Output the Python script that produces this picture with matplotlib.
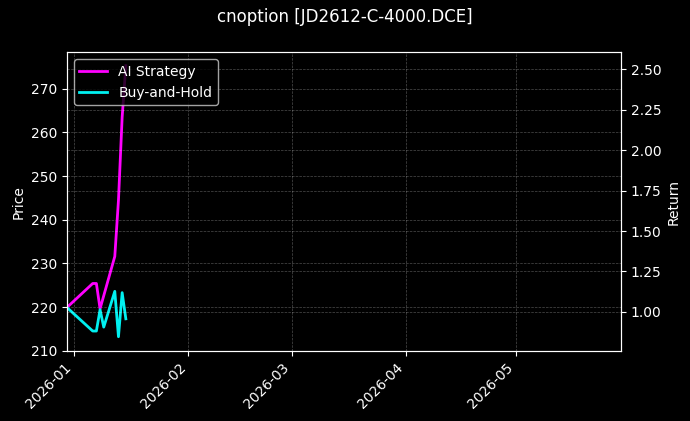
import matplotlib
matplotlib.use('Agg')
import matplotlib.pyplot as plt
import matplotlib.dates as mdates
import pandas as pd

# 数据
dates = pd.to_datetime(['2025-12-30', '2026-01-06', '2026-01-07', '2026-01-08',
                        '2026-01-09', '2026-01-12', '2026-01-13', '2026-01-14',
                        '2026-01-15'])
ai_strategy = [219.9, 225.4, 225.4, 219.6, 222.6, 231.6, 244.5, 263.5, 275.3]
buy_and_hold = [219.9, 214.5, 214.5, 219.4, 215.4, 223.6, 213.2, 223.3, 217.3]

x_end = pd.Timestamp('2026-05-29 12:00')
price_range = (209.9, 278.4)
return_range = (0.757, 2.607)
title = 'cnoption [JD2612-C-4000.DCE]'

plt.style.use('dark_background')
fig, ax1 = plt.subplots(figsize=(6.9, 4.21), dpi=100)
fig.subplots_adjust(left=0.097, right=0.9, bottom=0.166, top=0.876)

l1, = ax1.plot(dates, ai_strategy, color='#ff00ff', lw=2, label='AI Strategy')
l2, = ax1.plot(dates, buy_and_hold, color='#00f0f0', lw=2, label='Buy-and-Hold')
ax1.set_ylim(*price_range)
ax1.set_ylabel('Price')
ax1.grid(True, linestyle='--', linewidth=0.5, alpha=0.3)

ax2 = ax1.twinx()
ax2.set_ylim(*return_range)
ax2.set_ylabel('Return')
ax2.grid(True, linestyle='--', linewidth=0.5, alpha=0.3)

ax1.set_xlim(dates[0], x_end)
ax1.xaxis.set_major_locator(mdates.MonthLocator())
ax1.xaxis.set_major_formatter(mdates.DateFormatter('%Y-%m'))
for lab in ax1.get_xticklabels():
    lab.set_rotation(45)
    lab.set_ha('right')

ax2.legend(handles=[l1, l2], loc='upper left')
fig.suptitle(title, fontsize=12)

fig.savefig('out.png', dpi=100)
